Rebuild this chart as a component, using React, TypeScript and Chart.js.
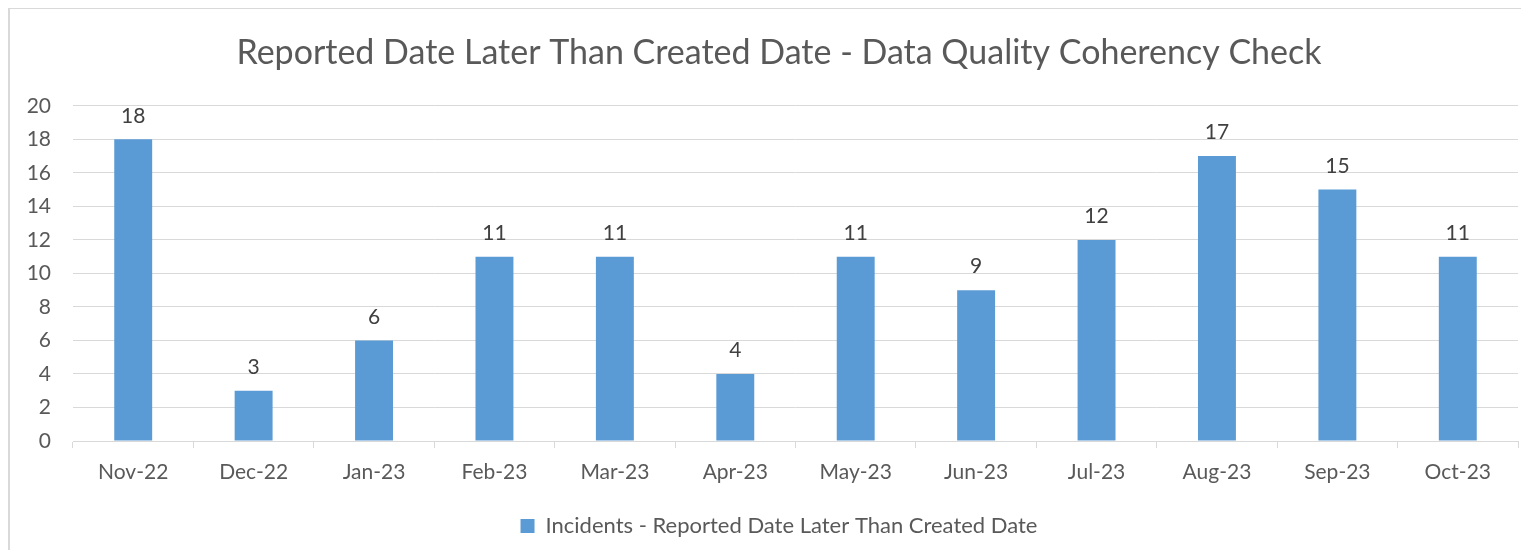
import React, { useEffect, useRef } from "react";
import { Chart, registerables } from "chart.js";

Chart.register(...registerables);

const categories = ["Nov-22", "Dec-22", "Jan-23", "Feb-23", "Mar-23", "Apr-23", "May-23", "Jun-23", "Jul-23", "Aug-23", "Sep-23", "Oct-23"];
const incidents = [18, 3, 6, 11, 11, 4, 11, 9, 12, 17, 15, 11];
const seriesName = "Incidents - Reported Date Later Than Created Date";
const chartTitle = "Reported Date Later Than Created Date - Data Quality Coherency Check";

const FONT = "Lato, 'Open Sans', sans-serif";
const TEXT = "#595959";

const valueLabels = {
  id: "valueLabels",
  afterDatasetsDraw(chart: any) {
    const ctx = chart.ctx;
    const meta = chart.getDatasetMeta(0);
    ctx.save();
    ctx.font = `21px ${FONT}`;
    ctx.fillStyle = "#404040";
    ctx.textAlign = "center";
    ctx.textBaseline = "bottom";
    meta.data.forEach((bar: any, i: number) => {
      ctx.fillText(String(incidents[i]), bar.x, bar.y - 13);
    });
    ctx.restore();
  },
};

export default function App() {
  const ref = useRef<HTMLCanvasElement>(null);
  useEffect(() => {
    if (!ref.current) return;
    const chart = new Chart(ref.current, {
      type: "bar",
      data: {
        labels: categories,
        datasets: [
          {
            label: seriesName,
            data: incidents,
            backgroundColor: "#5b9bd5",
            borderWidth: 0,
            barPercentage: 0.315,
            categoryPercentage: 1,
          },
        ],
      },
      plugins: [valueLabels],
      options: {
        animation: false,
        responsive: false,
        devicePixelRatio: 1,
        layout: { padding: { top: 8, right: 0, bottom: 3, left: 0 } },
        plugins: {
          title: {
            display: true,
            text: chartTitle,
            color: TEXT,
            font: { family: FONT, size: 34, weight: "normal" },
            padding: { top: 16, bottom: 32 },
          },
          legend: {
            position: "bottom",
            labels: {
              color: TEXT,
              font: { family: FONT, size: 22 },
              boxWidth: 14,
              boxHeight: 14,
              padding: 10,
            },
          },
          tooltip: { enabled: false },
        },
        scales: {
          x: {
            grid: {
              offset: true,
              drawOnChartArea: false,
              drawTicks: true,
              tickLength: 7,
              color: "#d9d9d9",
            },
            border: { display: true, color: "#d9d9d9" },
            ticks: { color: TEXT, font: { family: FONT, size: 21 }, padding: 12 },
            afterFit: (s: any) => {
              s.height = 64;
            },
          },
          y: {
            min: 0,
            max: 20,
            ticks: { stepSize: 2, color: TEXT, font: { family: FONT, size: 21 }, padding: 22 },
            grid: { color: "#d9d9d9", drawTicks: false },
            border: { display: false },
            afterFit: (s: any) => {
              s.width = 63;
            },
          },
          spacer: {
            type: "linear",
            position: "right",
            display: true,
            ticks: { display: false },
            grid: { display: false, drawTicks: false },
            border: { display: false },
            afterFit: (s: any) => {
              s.width = 30;
            },
          },
        },
      },
    });
    return () => chart.destroy();
  }, []);
  return (
    <div style={{ width: 1521, height: 543, overflow: "hidden", marginTop: -1 }}>
      <div
        style={{
          width: 1540,
          height: 543,
          borderTop: "2px solid #d9d9d9",
          borderLeft: "2px solid #d9d9d9",
          boxSizing: "border-box",
          background: "#fff",
        }}
      >
        <canvas ref={ref} width={1538} height={541} style={{ display: "block" }} />
      </div>
    </div>
  );
}
